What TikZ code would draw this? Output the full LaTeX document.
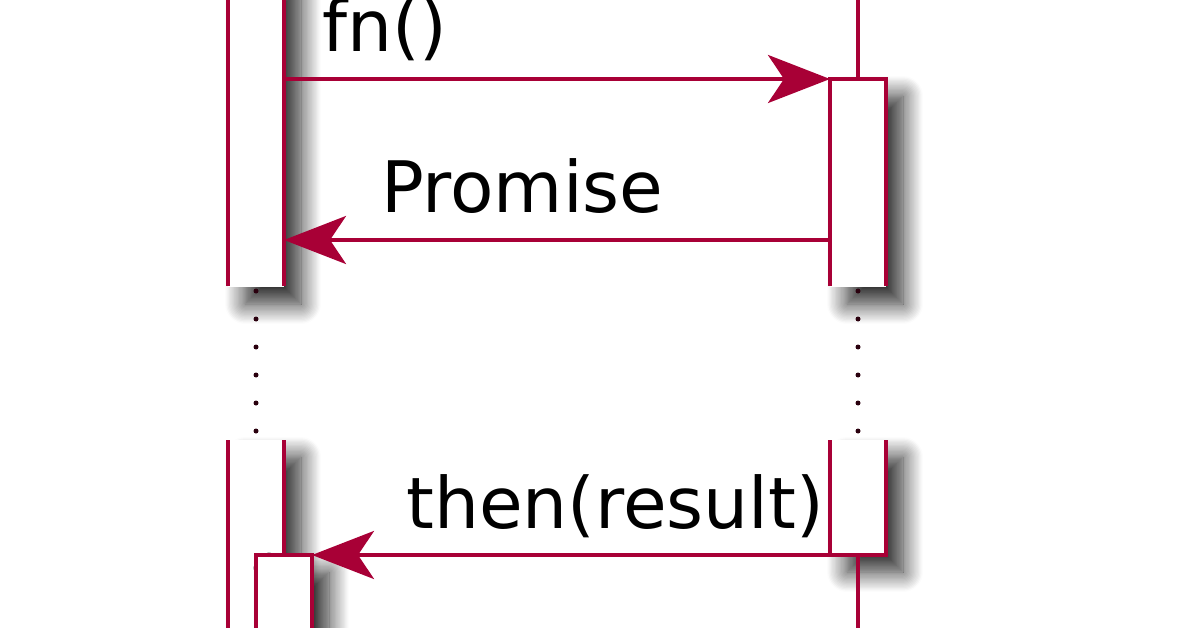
\documentclass[tikz,border=0pt]{standalone}
\usepackage{fontspec}
\setmainfont{DejaVu Sans}
\usetikzlibrary{arrows.meta,shadows.blur}
\definecolor{plumred}{HTML}{A80036}

\begin{document}
\begin{tikzpicture}[x=1pt,y=-1pt,
  life/.style={plumred, line width=3.8pt},
  delay/.style={plumred!25!black, line width=5pt, line cap=round, dash pattern=on 0pt off 28pt},
  msg/.style={plumred, line width=3.8pt, -{Stealth[length=62pt,width=48pt,inset=16pt]}},
  actbox/.style={fill=white, blur shadow={shadow xshift=17pt, shadow yshift=-17pt, shadow blur radius=20pt, shadow blur steps=16, shadow opacity=85}},
  lbl/.style={font=\fontsize{71}{80}\selectfont, anchor=base west, inner sep=0pt}]
\useasboundingbox (0,0) rectangle (1196,628);
% activation bars, cut by the delay
\fill[actbox] (228,-30) rectangle (284,287);
\fill[actbox] (830,79) rectangle (886,287);
\fill[actbox] (228,440) rectangle (284,670);
\fill[actbox] (830,440) rectangle (886,555);
\fill[actbox] (256,555) rectangle (312,670);
% caller side
\draw[life] (228,-5) -- (228,286);
\draw[life] (284,-5) -- (284,286);
\draw[delay] (256,291) -- (256,432);
\draw[life] (228,440) -- (228,640);
\draw[life] (284,440) -- (284,555);
\draw[life] (256,640) -- (256,555) -- (312,555) -- (312,640);
% callee side
\draw[life] (858,-5) -- (858,79);
\draw[life] (830,286) -- (830,79) -- (886,79) -- (886,286);
\draw[delay] (858,291) -- (858,432);
\draw[life] (830,440) -- (830,555) -- (886,555) -- (886,440);
\draw[life] (858,555) -- (858,640);
% messages
\coordinate (callerA) at (284,79);
\coordinate (calleeA) at (830,79);
\coordinate (callerB) at (284,240);
\coordinate (calleeB) at (830,240);
\coordinate (callerC) at (312,555);
\coordinate (calleeC) at (830,555);
\draw[msg] (callerA) -- (calleeA);
\draw[msg] (calleeB) -- (callerB);
\draw[msg] (calleeC) -- (callerC);
\node[lbl] (fnlbl) at (322,52) {fn()};
\node[lbl] (promiselbl) at (381,213) {Promise};
\node[lbl] (thenlbl) at (406,528) {then(result)};
\end{tikzpicture}
\end{document}
